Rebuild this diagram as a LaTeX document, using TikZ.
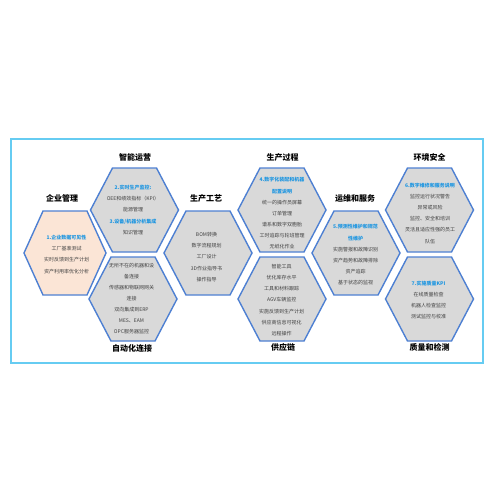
\documentclass[tikz,border=0pt]{standalone}
\usepackage{fontspec}
\newfontfamily\cjk{Noto Sans CJK SC}
\definecolor{hexblue}{RGB}{78,128,210}
\definecolor{hexgray}{RGB}{217,217,217}
\definecolor{hexpeach}{RGB}{251,229,214}
\definecolor{framecyan}{RGB}{102,204,242}
\definecolor{txtblue}{RGB}{30,150,225}
\definecolor{txtgray}{RGB}{64,64,64}
\tikzset{
  hexbox/.style={draw=hexblue, line width=1.4pt, fill=hexgray, line join=miter},
  hexpeachbox/.style={hexbox, fill=hexpeach},
  body/.style={inner sep=0pt, align=center, text=txtgray, font=\cjk\fontsize{5}{11.1}\selectfont},
  title/.style={inner sep=0pt, text=black, font=\cjk\bfseries\fontsize{8}{10}\selectfont},
}
\newcommand\bl[1]{\textcolor{txtblue}{\bfseries #1}}
\newcommand\hexat[3]{\draw[#3, shift={(#1,#2)}] (-44,0) -- (-22,-42) -- (22,-42) -- (44,0) -- (22,42) -- (-22,42) -- cycle;}
\begin{document}
\begin{tikzpicture}[x=1pt,y=-1pt]
\useasboundingbox (0,0) rectangle (500,500);
\draw[framecyan, line width=1.8pt] (11,139) rectangle (483,363);
% hexagons
\draw[hexpeachbox, shift={(65,253)}] (-41,0) -- (-22,-42) -- (22,-42) -- (41,0) -- (22,42) -- (-22,42) -- cycle;
\hexat{134.5}{210}{hexbox}
\hexat{133}{299}{hexbox}
\hexat{208}{253}{hexbox}
\hexat{282}{210}{hexbox}
\hexat{282}{299}{hexbox}
\hexat{356}{253}{hexbox}
\hexat{429.5}{210}{hexbox}
\hexat{429.5}{299}{hexbox}
% titles
\node[title] (t1) at (62,198.5) {企业管理};
\node[title] (t2) at (135,157.5) {智能运营};
\node[title] (t3) at (206,198.5) {生产工艺};
\node[title] (t4) at (282.5,157.5) {生产过程};
\node[title] (t5) at (355,198.5) {运维和服务};
\node[title] (t6) at (429.5,157.5) {环境安全};
\node[title] (t7) at (132,348) {自动化连接};
\node[title] (t8) at (283,347.5) {供应链};
\node[title] (t9) at (429.5,347.5) {质量和检测};
% bodies
\node[body] (b1) at (66.5,254.5) {\bl{1.企业数据可见性}\\工厂基准测试\\实时反馈到生产计划\\资产利用率优化分析};
\node[body] (b2) at (133,210) {\bl{2.实时生产监控:}\\OEE和绩效指标（KPI）\\能源管理\\\bl{3.设备/机器分析集成}\\知识管理};
\node[body] (b3) at (206.5,257) {BOM转换\\数字流程规划\\工厂设计\\3D作业指导书\\操作指导};
\node[body] (b4) at (282,213.3) {\bl{4.数字化装配和机器}\\\bl{配置说明}\\统一的操作员屏幕\\订单管理\\谱系和数字双胞胎\\工时追踪与轮班管理\\无纸化作业};
\node[body] (b5) at (131.5,298.7) {无所不在的机器和设\\备连接\\传感器和物联网网关\\连接\\双向集成到ERP\\MES、EAM\\OPC服务器监控};
\node[body] (b6) at (281.7,300) {智能工具\\优化库存水平\\工具和材料跟踪\\AGV车辆监控\\实施反馈到生产计划\\供应商信息可视化\\远程操作};
\node[body] (b7) at (355.5,254.7) {\bl{5.预测性维护和规范}\\\bl{性维护}\\实施警报和故障识别\\资产趋势和故障排除\\资产追踪\\基于状态的监视};
\node[body] (b8) at (430,213.3) {\bl{6.数字维修和服务说明}\\监控运行状况警告\\异常或风险\\监控、安全和培训\\灵活且适应性强的员工\\队伍};
\node[body] (b9) at (428.5,300) {\bl{7.实施质量KPI}\\在线质量检查\\机器人检查监控\\测试监控与校准};
\end{tikzpicture}
\end{document}
